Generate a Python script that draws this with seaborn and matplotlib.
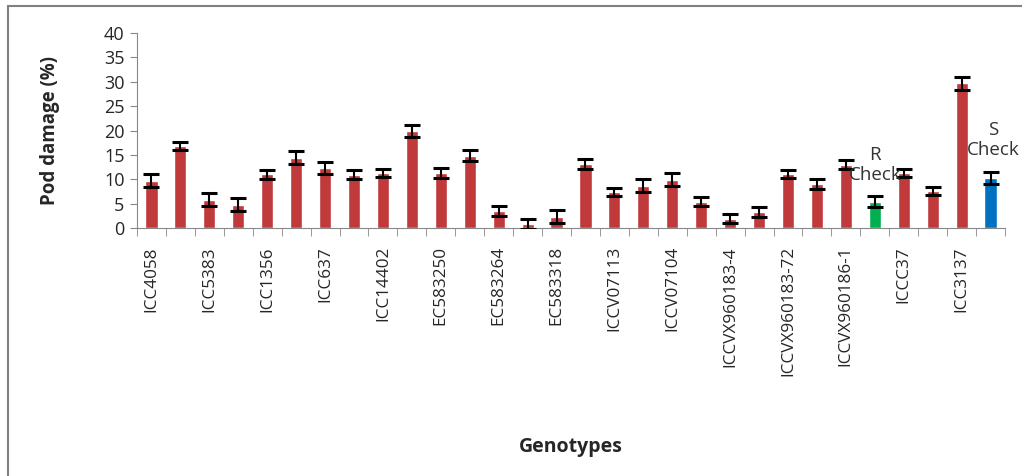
import numpy as np
import pandas as pd
import matplotlib
matplotlib.use("Agg")
import matplotlib.pyplot as plt
import seaborn as sns

# --- data ---
tick_labels = ["ICC4058", "ICC5383", "ICC1356", "ICC637", "ICC14402",
               "EC583250", "EC583264", "EC583318", "ICCV07113", "ICCV07104",
               "ICCVX960183-4", "ICCVX960183-72", "ICCVX960186-1", "ICCC37", "ICC3137"]

damage = [9.7, 16.8, 5.8, 4.8, 11.0, 14.4, 12.3, 10.9, 11.3, 19.9,
          11.3, 14.8, 3.5, 0.8, 2.3, 13.2, 7.4, 8.7, 9.9, 5.4,
          1.9, 3.3, 11.1, 9.1, 13.0, 5.4, 11.3, 7.6, 29.7, 10.2]

std_err = [1.3, 0.9, 1.3, 1.3, 0.9, 1.3, 1.3, 0.9, 0.9, 1.3,
           1.1, 1.1, 1.1, 1.0, 1.3, 1.0, 0.9, 1.3, 1.3, 0.9,
           0.9, 1.1, 0.9, 1.0, 0.9, 1.1, 0.9, 0.9, 1.3, 1.2]

groups = ["entry"] * 30
groups[25] = "R check"
groups[29] = "S check"

palette = {"entry": "#C0393B", "R check": "#00B050", "S check": "#0070C0"}

df = pd.DataFrame({"pos": range(len(damage)), "damage": damage,
                   "se": std_err, "group": groups})

# --- plot ---
sns.set_style("white")
plt.rcParams["font.family"] = ["Open Sans", "DejaVu Sans"]

fig = plt.figure(figsize=(10.22, 4.76), dpi=100)
ax = fig.add_axes([137 / 1022, 1 - 228 / 476, (1005 - 137) / 1022, (228 - 33) / 476])

sns.barplot(data=df, x="pos", y="damage", hue="group", palette=palette,
            dodge=False, width=0.42, legend=False, ax=ax, saturation=1)
ax.errorbar(df["pos"], df["damage"], yerr=df["se"], fmt="none",
            ecolor="black", elinewidth=1.5, capsize=6, capthick=2.2, zorder=3)

ax.set_xlim(-0.5, len(damage) - 0.5)
ax.set_ylim(0, 40)
ax.set_yticks(range(0, 41, 5))
ax.tick_params(axis="y", labelsize=13, length=5, color="#888888", left=True, pad=4)

ax.set_xticks(np.arange(0, len(damage), 2))
ax.set_xticklabels(tick_labels, rotation=90, fontsize=12.3, va="top")
ax.tick_params(axis="x", which="major", length=0, pad=13)
ax.set_xticks(np.arange(-0.5, len(damage)), minor=True)
ax.tick_params(axis="x", which="minor", length=6, color="#888888", bottom=True)

for side in ["top", "right"]:
    ax.spines[side].set_visible(False)
for side in ["left", "bottom"]:
    ax.spines[side].set_color("#888888")

ax.set_xlabel("Genotypes", fontsize=14, fontweight="bold")
ax.xaxis.set_label_coords((571 - 137) / (1005 - 137), -(437 - 228) / (228 - 33))
ax.set_ylabel("Pod damage (%)", fontsize=13.5, fontweight="bold")
ax.yaxis.set_label_coords(-(137 - 60) / (1005 - 137), 0.5)

ax.text(25, 12.9, "R\nCheck", ha="center", va="center", fontsize=13.5,
        color="#333333", linespacing=1.15)
ax.text(29.1, 18.0, "S\nCheck", ha="center", va="center", fontsize=13.5,
        color="#333333", linespacing=1.15)

# outer frame (left and top edges visible in the reference)
fig.add_artist(plt.Line2D([8 / 1022, 8 / 1022], [0, 1 - 6 / 476],
                          transform=fig.transFigure, color="#808080", lw=1.5))
fig.add_artist(plt.Line2D([8 / 1022, 1], [1 - 6 / 476, 1 - 6 / 476],
                          transform=fig.transFigure, color="#808080", lw=1.5))

fig.savefig("out.png", dpi=100)
